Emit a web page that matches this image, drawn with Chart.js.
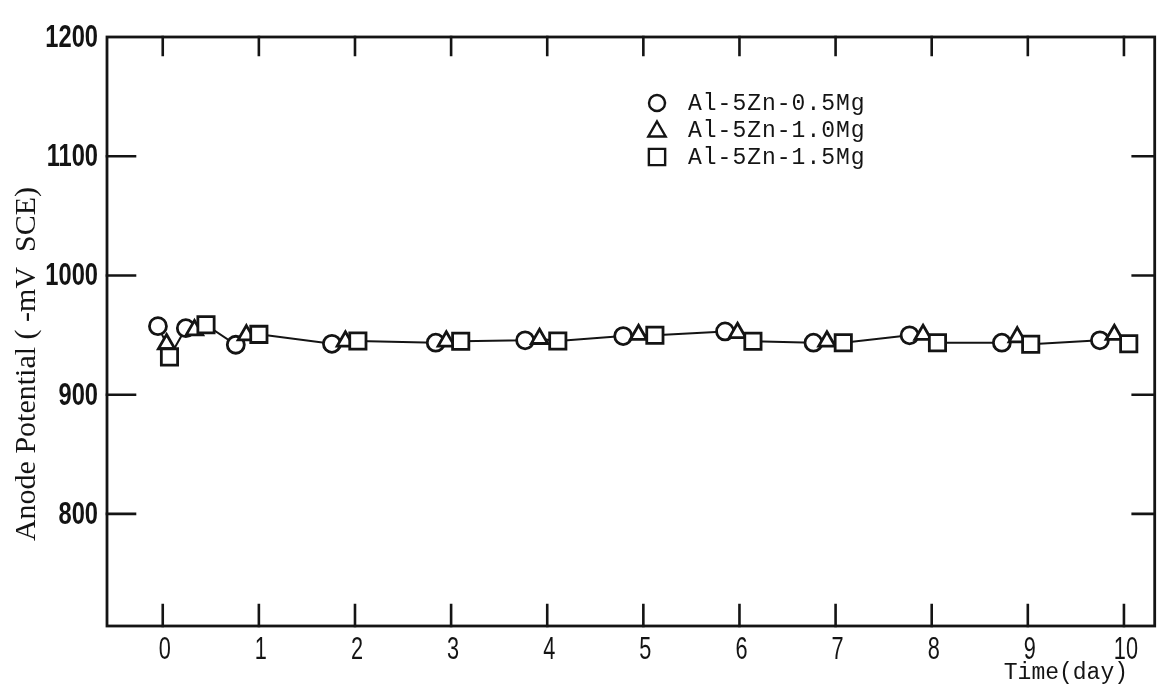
<!DOCTYPE html>
<html>
<head>
<meta charset="utf-8">
<title>Anode Potential vs Time</title>
<script src="https://cdn.jsdelivr.net/npm/chart.js@4.4.1/dist/chart.umd.min.js"></script>
<style>
  html, body { margin: 0; padding: 0; background: #ffffff; }
  #wrap { position: relative; width: 1169px; height: 688px; }
</style>
</head>
<body>
<div id="wrap"><canvas id="chart" width="1169" height="688"></canvas></div>
<script>
// Anode potential (-mV vs SCE) of three Al-5Zn-xMg alloys over 10 days
const seriesLabels = ['Al-5Zn-0.5Mg', 'Al-5Zn-1.0Mg', 'Al-5Zn-1.5Mg'];

const mg05Days = [-0.05, 0.24, 0.76, 1.76, 2.84, 3.77, 4.79, 5.85, 6.77, 7.77, 8.73, 9.75];
const mg05Pot  = [957.5, 955.8, 941.9, 942.7, 943.6, 945.6, 949.2, 953.1, 943.6, 949.8, 943.6, 945.6];

const mg10Days = [0.04, 0.33, 0.87, 1.90, 2.95, 3.92, 4.95, 5.98, 6.91, 7.91, 8.89, 9.90];
const mg10Pot  = [942.5, 954.2, 950.0, 944.8, 944.8, 946.9, 950.3, 951.9, 944.8, 950.3, 948.3, 950.3];

const mg15Days = [0.07, 0.45, 1.00, 2.03, 3.10, 4.11, 5.12, 6.14, 7.08, 8.06, 9.03, 10.05];
const mg15Pot  = [931.7, 958.6, 950.6, 945.0, 944.8, 945.0, 949.8, 944.8, 943.6, 943.6, 942.3, 942.8];

const dayTicks = [0, 1, 2, 3, 4, 5, 6, 7, 8, 9, 10];
const potTicks = [800, 900, 1000, 1100, 1200];

const xTitle = 'Time(day)';
const yTitle = 'Anode Potential ( -mV  SCE)';

const INK = '#141414';
const NUM_FONT = '"Liberation Sans", Arial, sans-serif';

function toPoints(xs, ys) {
  return xs.map((x, i) => ({ x: x, y: ys[i] }));
}

// one hand-drawn guide line running through every measured point in time order
const guidePoints = [
  ...toPoints(mg05Days, mg05Pot),
  ...toPoints(mg10Days, mg10Pot),
  ...toPoints(mg15Days, mg15Pot)
].sort((a, b) => a.x - b.x);

const markerStyles = [
  { style: 'circle', radius: 8.5 },
  { style: 'triangle', radius: 9.5 },
  { style: 'rect', radius: 11.5 }
];

function markerSet(label, pts, m, order) {
  return {
    label: label,
    data: pts,
    showLine: false,
    pointStyle: m.style,
    pointRadius: m.radius,
    pointHoverRadius: m.radius,
    pointBorderWidth: 2.8,
    pointBorderColor: INK,
    pointBackgroundColor: '#ffffff',
    borderColor: INK,
    backgroundColor: '#ffffff',
    order: order
  };
}

function drawSymbol(ctx, style, x, y, r) {
  ctx.beginPath();
  if (style === 'circle') {
    ctx.arc(x, y, r, 0, Math.PI * 2);
  } else if (style === 'triangle') {
    const a = 2 * Math.PI / 3;
    ctx.moveTo(x, y - r);
    ctx.lineTo(x + Math.sin(a) * r, y - Math.cos(a) * r);
    ctx.lineTo(x + Math.sin(2 * a) * r, y - Math.cos(2 * a) * r);
    ctx.closePath();
  } else {
    const s = r * Math.SQRT1_2;
    ctx.rect(x - s, y - s, 2 * s, 2 * s);
  }
  ctx.fillStyle = '#ffffff';
  ctx.fill();
  ctx.stroke();
}

// narrow numerals, squeezed horizontally around their anchor point
function narrowText(ctx, text, x, y, align, squeeze) {
  ctx.save();
  ctx.translate(x, y);
  ctx.scale(squeeze, 1);
  ctx.textAlign = align;
  ctx.fillText(text, 0, 0);
  ctx.restore();
}

// frame, inward tick marks, tick labels, axis titles and the key
const framePlugin = {
  id: 'framePlugin',
  afterDraw(chart) {
    const ctx = chart.ctx;
    const a = chart.chartArea;
    const xs = chart.scales.x;
    const ys = chart.scales.y;
    ctx.save();
    ctx.strokeStyle = INK;
    ctx.fillStyle = INK;
    ctx.lineCap = 'square';

    ctx.lineWidth = 2.8;
    ctx.strokeRect(a.left, a.top, a.right - a.left, a.bottom - a.top);

    ctx.lineWidth = 2.6;
    ctx.beginPath();
    dayTicks.forEach(v => {
      const px = xs.getPixelForValue(v);
      ctx.moveTo(px, a.bottom); ctx.lineTo(px, a.bottom - 21);
      ctx.moveTo(px, a.top);    ctx.lineTo(px, a.top + 18);
    });
    potTicks.forEach(v => {
      const py = ys.getPixelForValue(v);
      if (py <= a.top + 1) return;
      ctx.moveTo(a.left, py);  ctx.lineTo(a.left + 28, py);
      ctx.moveTo(a.right, py); ctx.lineTo(a.right - 22, py);
    });
    ctx.stroke();

    // tick labels
    ctx.textBaseline = 'middle';
    ctx.font = 'bold 32px ' + NUM_FONT;
    potTicks.forEach(v => {
      narrowText(ctx, String(v), a.left - 9, ys.getPixelForValue(v) + 1, 'right', 0.74);
    });
    ctx.textBaseline = 'top';
    ctx.font = '31px ' + NUM_FONT;
    dayTicks.forEach(v => {
      narrowText(ctx, String(v), xs.getPixelForValue(v) + 2, a.bottom + 9, 'center', 0.7);
    });

    // x-axis title
    ctx.font = '23px "Liberation Mono", "Courier New", monospace';
    ctx.textAlign = 'right';
    ctx.textBaseline = 'middle';
    ctx.fillText(xTitle, 1128, 673);

    // y-axis title
    ctx.save();
    ctx.translate(27, 364);
    ctx.rotate(-Math.PI / 2);
    ctx.font = '30px "Liberation Serif", "Times New Roman", serif';
    ctx.textAlign = 'center';
    ctx.textBaseline = 'middle';
    ctx.fillText(yTitle, 0, 0);
    ctx.restore();

    // key
    const rows = [103, 130, 157];
    ctx.lineWidth = 2.4;
    ctx.font = '23px "Liberation Mono", "Courier New", monospace';
    ctx.textAlign = 'left';
    ctx.textBaseline = 'middle';
    if ('letterSpacing' in ctx) ctx.letterSpacing = '1px';
    seriesLabels.forEach((lab, i) => {
      const m = markerStyles[i];
      const r = m.style === 'rect' ? 11.5 : (m.style === 'triangle' ? 10 : 8);
      drawSymbol(ctx, m.style, 657, rows[i] + (m.style === 'triangle' ? 1.5 : 0), r);
      ctx.fillStyle = INK;
      ctx.fillText(lab, 688, rows[i] + 1);
    });
    ctx.restore();
  }
};

const config = {
  type: 'scatter',
  data: {
    datasets: [
      {
        label: 'guide',
        data: guidePoints,
        showLine: true,
        borderColor: INK,
        borderWidth: 2,
        pointRadius: 0,
        pointHoverRadius: 0,
        tension: 0,
        order: 10
      },
      markerSet(seriesLabels[0], toPoints(mg05Days, mg05Pot), markerStyles[0], 3),
      markerSet(seriesLabels[1], toPoints(mg10Days, mg10Pot), markerStyles[1], 2),
      markerSet(seriesLabels[2], toPoints(mg15Days, mg15Pot), markerStyles[2], 1)
    ]
  },
  options: {
    responsive: false,
    animation: false,
    devicePixelRatio: 1,
    layout: { padding: { left: 0, right: 6, top: 37, bottom: 0 } },
    plugins: {
      legend: { display: false },
      tooltip: { enabled: false },
      title: { display: false }
    },
    scales: {
      x: {
        type: 'linear',
        min: -0.58,
        max: 10.32,
        afterBuildTicks(scale) { scale.ticks = dayTicks.map(v => ({ value: v })); },
        afterFit(scale) { scale.height = 62; },
        grid: { display: false, drawTicks: false },
        border: { display: false },
        ticks: { display: false }
      },
      y: {
        type: 'linear',
        min: 706,
        max: 1200,
        afterBuildTicks(scale) { scale.ticks = potTicks.map(v => ({ value: v })); },
        afterFit(scale) { scale.width = 107; },
        grid: { display: false, drawTicks: false },
        border: { display: false },
        ticks: { display: false }
      }
    }
  },
  plugins: [framePlugin]
};

new Chart(document.getElementById('chart'), config);
</script>
</body>
</html>
